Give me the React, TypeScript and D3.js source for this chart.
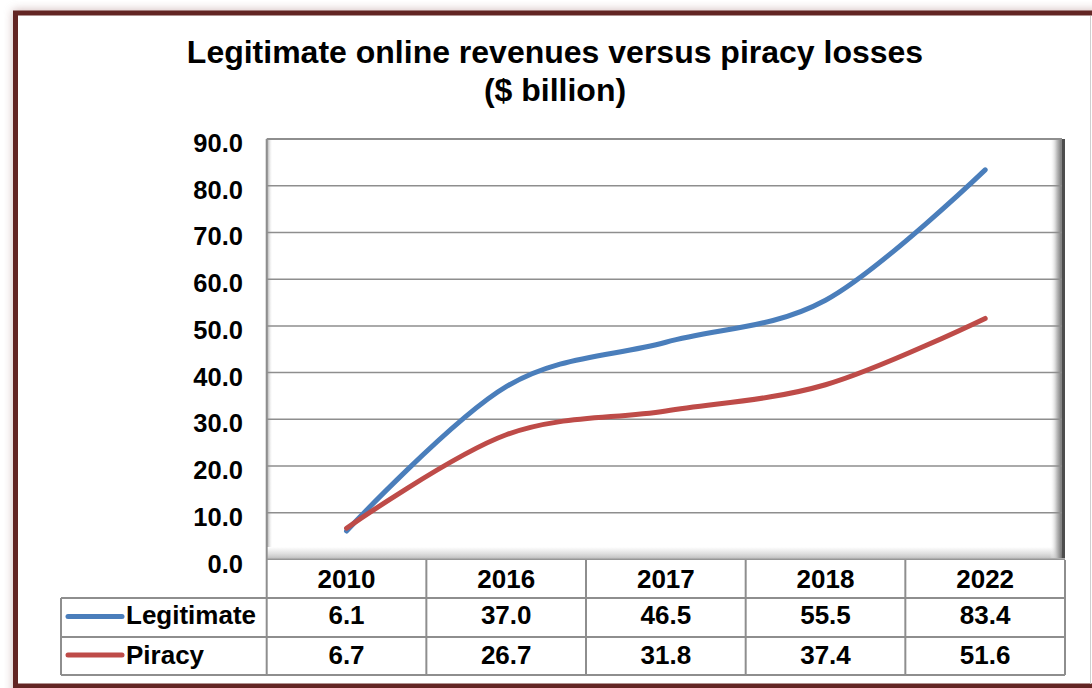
import React from "react";
import * as d3 from "d3";

const categories = ["2010", "2016", "2017", "2018", "2022"];
const legitimate = [6.1, 37.0, 46.5, 55.5, 83.4];
const piracy = [6.7, 26.7, 31.8, 37.4, 51.6];
const yTicks = [0, 10, 20, 30, 40, 50, 60, 70, 80, 90];
const seriesNames = ["Legitimate", "Piracy"];
const seriesColors = ["#4a7ebb", "#be4b48"];
const titleLines = ["Legitimate online revenues versus piracy losses", "($ billion)"];

const W = 1092;
const H = 688;
const X0 = 266.7;
const X1 = 1065;
const YTOP = 139;
const YZERO = 559.5;
const ROW_H0 = 560;
const ROW_H1 = 598;
const ROW_H2 = 637;
const ROW_H3 = 675;
const LEG_X = 61;
const FONT = "'Liberation Sans', Arial, sans-serif";

export default function App() {
  const x = d3.scaleBand<string>().domain(categories).range([X0, X1]);
  const y = d3.scaleLinear().domain([0, 90]).range([YZERO, YTOP]);
  const line = d3
    .line<number>()
    .x((_, i) => (x(categories[i]) as number) + x.bandwidth() / 2)
    .y((d) => y(d))
    .curve(d3.curveCardinal.tension(0));
  const series = [legitimate, piracy];
  const gridColor = "#8e8e8e";

  return (
    <svg
      width={W}
      height={H}
      style={{ position: "absolute", left: 0, top: 0, background: "#fff" }}
      fontFamily={FONT}
    >
      <defs>
        <filter id="sh" x="-5%" y="-5%" width="110%" height="110%">
          <feGaussianBlur stdDeviation="5" />
        </filter>
        <linearGradient id="rightShade" x1="0" x2="1" y1="0" y2="0">
          <stop offset="0" stopColor="#ffffff" stopOpacity="0" />
          <stop offset="0.6" stopColor="#bdbdbd" />
          <stop offset="1" stopColor="#7a7a7a" />
        </linearGradient>
        <linearGradient id="leftShade" x1="0" x2="1" y1="0" y2="0">
          <stop offset="0" stopColor="#9a9a9a" />
          <stop offset="1" stopColor="#ffffff" stopOpacity="0" />
        </linearGradient>
        <linearGradient id="floorShade" x1="0" x2="0" y1="0" y2="1">
          <stop offset="0" stopColor="#ffffff" />
          <stop offset="0.5" stopColor="#e0e0e0" />
          <stop offset="0.8" stopColor="#c8c8c8" />
          <stop offset="1" stopColor="#8a8a8a" />
        </linearGradient>
      </defs>

      {/* outer shadow + frame */}
      <rect x={13} y={10} width={W + 20} height={H} fill="#b08a8a" opacity={0.6} filter="url(#sh)" />
      <rect x={15.5} y={13} width={W + 20} height={673} fill="#ffffff" stroke="#632523" strokeWidth={5} />
      <line x1={1090.5} x2={1090.5} y1={16} y2={684} stroke="#cfcfcf" strokeWidth={1} />

      {/* title */}
      {titleLines.map((t, i) => (
        <text
          key={t}
          x={555}
          y={63 + i * 38}
          textAnchor="middle"
          fontSize={32}
          fontWeight="bold"
          fill="#000"
        >
          {t}
        </text>
      ))}

      {/* plot wall */}
      <rect x={X0} y={YTOP} width={X1 - X0} height={547 - YTOP} fill="#ffffff" />
      <rect x={X0} y={YTOP} width={6} height={547 - YTOP} fill="url(#leftShade)" />
      <rect x={X0} y={547} width={X1 - X0} height={ROW_H0 - 547} fill="url(#floorShade)" />
      <rect x={1050} y={YTOP} width={11.5} height={ROW_H0 - 2 - YTOP} fill="url(#rightShade)" />
      <rect x={1061.5} y={YTOP} width={3.5} height={ROW_H0 - 2 - YTOP} fill="#4d4d4d" />

      {/* gridlines */}
      {yTicks.filter((t) => t > 0).map((t) => (
        <line
          key={t}
          x1={X0}
          x2={X1 - 3}
          y1={y(t)}
          y2={y(t)}
          stroke={gridColor}
          strokeWidth={t === 90 ? 2 : 1.5}
        />
      ))}
      <line x1={X0} x2={X0} y1={YTOP} y2={ROW_H3} stroke={gridColor} strokeWidth={2} />

      {/* y tick labels */}
      {yTicks.map((t) => (
        <text
          key={t}
          x={243}
          y={y(t) + 13}
          textAnchor="end"
          fontSize={25.5}
          fontWeight="bold"
          fill="#000"
        >
          {t.toFixed(1)}
        </text>
      ))}

      {/* lines */}
      {series.map((s, i) => (
        <path
          key={seriesNames[i]}
          d={line(s) as string}
          fill="none"
          stroke={seriesColors[i]}
          strokeWidth={5}
          strokeLinecap="round"
          strokeLinejoin="round"
        />
      ))}

      {/* data table */}
      <g stroke={gridColor} strokeWidth={2} fill="none">
        <line x1={X0} x2={X1} y1={ROW_H1} y2={ROW_H1} />
        <line x1={LEG_X} x2={X0} y1={ROW_H1} y2={ROW_H1} />
        <line x1={LEG_X} x2={X1} y1={ROW_H2} y2={ROW_H2} />
        <line x1={LEG_X} x2={X1} y1={ROW_H3} y2={ROW_H3} />
        <line x1={LEG_X} x2={LEG_X} y1={ROW_H1} y2={ROW_H3} />
        {categories.map((c) => (
          <line
            key={c}
            x1={(x(c) as number) + x.bandwidth()}
            x2={(x(c) as number) + x.bandwidth()}
            y1={ROW_H0}
            y2={ROW_H3}
          />
        ))}
      </g>
      {categories.map((c, ci) => {
        const cx = (x(c) as number) + x.bandwidth() / 2;
        return (
          <g key={c} fontSize={26} fontWeight="bold" textAnchor="middle" fill="#000">
            <text x={cx} y={587.5}>{c}</text>
            <text x={cx} y={624}>{legitimate[ci].toFixed(1)}</text>
            <text x={cx} y={663.5}>{piracy[ci].toFixed(1)}</text>
          </g>
        );
      })}
      {seriesNames.map((n, i) => {
        const ly = i === 0 ? 616.5 : 655;
        return (
          <g key={n}>
            <line
              x1={68}
              x2={122}
              y1={ly}
              y2={ly}
              stroke={seriesColors[i]}
              strokeWidth={5}
              strokeLinecap="round"
            />
            <text x={126} y={i === 0 ? 624 : 663.5} fontSize={26} fontWeight="bold" fill="#000">
              {n}
            </text>
          </g>
        );
      })}
    </svg>
  );
}
